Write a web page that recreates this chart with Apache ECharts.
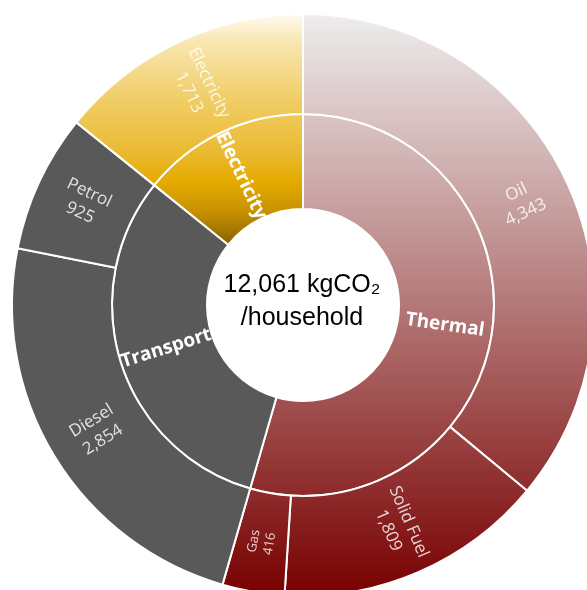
<!DOCTYPE html>
<html>
<head>
<meta charset="utf-8">
<script src="https://cdn.jsdelivr.net/npm/echarts@6/dist/echarts.min.js"></script>
<style>
  html, body { margin: 0; padding: 0; background: #ffffff; }
  #chart { width: 587px; height: 590px; }
</style>
</head>
<body>
<div id="chart"></div>
<script>
// Household emissions by source (kgCO2 per household)
const groupNames = ['Thermal', 'Transport', 'Electricity'];
const thermalNames = ['Oil', 'Solid Fuel', 'Gas'];
const thermalValues = [4343, 1809, 416];
const transportNames = ['Diesel', 'Petrol'];
const transportValues = [2854, 925];
const electricityNames = ['Electricity'];
const electricityValues = [1713];
const totalText = '12,061 kgCO\u2082\n/household';

const CX = 303, CY = 305, R0 = 96, R1 = 191, R2 = 291;

// Shared vertical gradients in chart coordinates so inner and outer rings blend together
const thermalFill = new echarts.graphic.LinearGradient(0, CY - R2, 0, CY + R2, [
  { offset: 0, color: '#eeeded' },
  { offset: 0.5, color: '#b47878' },
  { offset: 1, color: '#780000' }
], true);
const electricityFill = new echarts.graphic.LinearGradient(0, CY - R2, 0, 245, [
  { offset: 0, color: '#fffbf2' },
  { offset: 0.11, color: '#f9e8b5' },
  { offset: 0.37, color: '#f0cd66' },
  { offset: 0.59, color: '#ebbb35' },
  { offset: 0.72, color: '#e5ab00' },
  { offset: 0.85, color: '#c99300' },
  { offset: 1, color: '#8a6000' }
], true);
const transportFill = '#595959';

function leaves(names, values, fill) {
  return names.map((n, i) => {
    const node = { name: n, value: values[i], itemStyle: { color: fill } };
    if (values[i] < 600) {
      node.label = { fontSize: 13, lineHeight: 16 };
    }
    return node;
  });
}

const fills = [thermalFill, transportFill, electricityFill];
const childNames = [thermalNames, transportNames, electricityNames];
const childValues = [thermalValues, transportValues, electricityValues];

const data = groupNames.map((g, i) => ({
  name: g,
  itemStyle: { color: fills[i] },
  children: leaves(childNames[i], childValues[i], fills[i])
}));

const chart = echarts.init(document.getElementById('chart'), null, { renderer: 'canvas' });
chart.setOption({
  animation: false,
  backgroundColor: '#ffffff',
  series: [{
    type: 'sunburst',
    center: [CX, CY],
    radius: [R0, R2],
    sort: null,
    startAngle: 90,
    clockwise: true,
    nodeClick: false,
    emphasis: { disabled: true },
    itemStyle: { borderColor: '#ffffff', borderWidth: 2 },
    data: data,
    levels: [
      {},
      {
        r0: R0, r: R1,
        label: {
          rotate: 'radial',
          color: '#ffffff',
          fontFamily: '"Open Sans", "Noto Sans", sans-serif',
          fontWeight: 'bold',
          fontSize: 19,
          formatter: '{b}'
        }
      },
      {
        r0: R1, r: R2,
        label: {
          rotate: 'radial',
          color: 'rgba(255,255,255,0.82)',
          fontFamily: '"Open Sans", "Noto Sans", sans-serif',
          fontSize: 17,
          lineHeight: 22,
          formatter: p => p.name + '\n' + p.value.toLocaleString('en-US')
        }
      }
    ]
  }],
  graphic: [{
    type: 'text',
    x: 302,
    y: 302,
    style: {
      text: totalText,
      align: 'center',
      verticalAlign: 'middle',
      fontFamily: '"Liberation Sans", Arial, sans-serif',
      fontSize: 25,
      lineHeight: 33,
      fill: '#000000'
    }
  }]
});
</script>
</body>
</html>
